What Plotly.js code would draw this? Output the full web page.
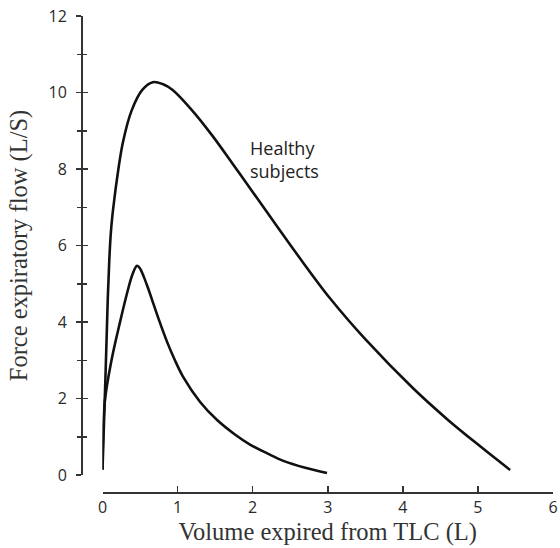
<!DOCTYPE html>
<html>
<head>
<meta charset="utf-8">
<script src="https://cdn.plot.ly/plotly-3.0.1.min.js"></script>
<style>html,body{margin:0;padding:0;background:#fff;}#chart{width:560px;height:548px;}</style>
</head>
<body>
<div id="chart"></div>
<script>
// Healthy subjects flow-volume curve
var healthyVolume = [0, 0.04, 0.07, 0.09, 0.11, 0.13, 0.16, 0.19, 0.27, 0.39, 0.53, 0.67, 0.80, 0.93, 1.19, 1.46, 1.74, 2.00, 2.30, 2.61, 3.03, 3.50, 4.14, 4.59, 5.03, 5.43];
var healthyFlow   = [0.13, 2.6, 4.6, 5.6, 6.3, 6.75, 7.25, 7.7, 8.68, 9.54, 10.07, 10.27, 10.22, 10.07, 9.54, 8.88, 8.12, 7.40, 6.57, 5.72, 4.62, 3.55, 2.26, 1.46, 0.75, 0.13];
// Obstructed curve
var obstructVolume = [0, 0.03, 0.12, 0.23, 0.34, 0.40, 0.46, 0.50, 0.55, 0.60, 0.66, 0.74, 0.86, 0.96, 1.07, 1.30, 1.53, 1.75, 1.97, 2.20, 2.41, 2.70, 2.99];
var obstructFlow   = [0.15, 1.9, 3.0, 3.97, 4.85, 5.25, 5.47, 5.40, 5.18, 4.92, 4.58, 4.12, 3.48, 3.02, 2.58, 1.91, 1.43, 1.08, 0.79, 0.56, 0.37, 0.19, 0.05];
var xTicks = [0, 1, 2, 3, 4, 5, 6];
var yTicks = [0, 2, 4, 6, 8, 10, 12];
var labelText = "Healthy<br>subjects";
var labelPos = [1.94, 8.24];

var lineStyle = {color: '#111', width: 2.6, shape: 'spline', smoothing: 1};
var data = [
  {x: healthyVolume, y: healthyFlow, mode: 'lines', line: lineStyle, name: 'Healthy subjects', hoverinfo: 'x+y'},
  {x: obstructVolume, y: obstructFlow, mode: 'lines', line: lineStyle, name: 'Obstructed', hoverinfo: 'x+y'},
  {x: [], y: [], yaxis: 'y2', mode: 'lines', showlegend: false, hoverinfo: 'skip'}
];
var tickFont = {family: 'Open Sans, sans-serif', size: 16, color: '#2a2a2a'};
var titleFont = {family: 'Liberation Serif, Times New Roman, serif', size: 24.5, color: '#333'};
var yDomain = [(548-475)/548, (548-16)/548];
var yPos = 81/560;
var layout = {
  width: 560, height: 548,
  margin: {l: 0, r: 0, t: 0, b: 0},
  paper_bgcolor: '#fff', plot_bgcolor: '#fff',
  showlegend: false,
  xaxis: {
    domain: [102.5/560, 553/560], range: [0, 6],
    anchor: 'free', position: (548-492)/548,
    tickvals: xTicks, ticktext: xTicks.map(String),
    ticks: 'inside', ticklen: 6, tickwidth: 1.5, tickcolor: '#333',
    showline: true, linecolor: '#333', linewidth: 1.5,
    showgrid: false, zeroline: false,
    tickfont: tickFont,
    title: {text: 'Volume expired from TLC (L)', font: titleFont, standoff: 0}
  },
  yaxis: {
    domain: yDomain, range: [0, 12],
    anchor: 'free', position: yPos,
    tickvals: yTicks, ticktext: yTicks.map(String),
    ticks: 'inside', ticklen: 5, tickwidth: 1.5, tickcolor: '#333',
    minor: {dtick: 1, tick0: 0, ticks: 'inside', ticklen: 4, tickwidth: 1.5, tickcolor: '#333', showgrid: false},
    showline: true, linecolor: '#333', linewidth: 1.5,
    showgrid: false, zeroline: false,
    tickfont: tickFont, ticklabelstandoff: 11,
    title: {text: 'Force expiratory flow (L/S)', font: titleFont, standoff: 12}
  },
  yaxis2: {
    domain: yDomain, range: [0, 12], overlaying: 'y',
    anchor: 'free', position: yPos,
    tickvals: yTicks, showticklabels: false,
    ticks: 'outside', ticklen: 5, tickwidth: 1.5, tickcolor: '#333',
    minor: {dtick: 1, tick0: 0, ticks: 'outside', ticklen: 4, tickwidth: 1.5, tickcolor: '#333', showgrid: false},
    showline: false, showgrid: false, zeroline: false
  },
  annotations: [{
    x: labelPos[0], y: labelPos[1], xref: 'x', yref: 'y',
    text: labelText, showarrow: false, xanchor: 'left', yanchor: 'middle', align: 'left',
    font: {family: 'Open Sans, sans-serif', size: 18, color: '#222'}
  }]
};
Plotly.newPlot('chart', data, layout, {displayModeBar: false, staticPlot: true});
</script>
</body>
</html>
